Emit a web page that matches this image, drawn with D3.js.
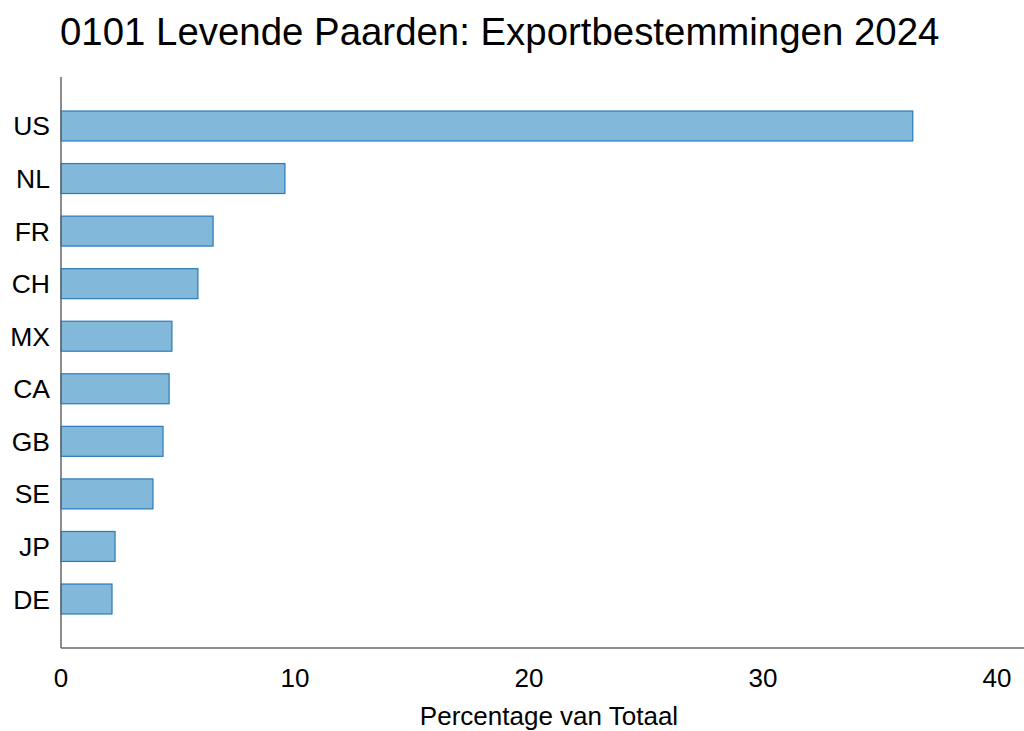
<!DOCTYPE html>
<html>
<head>
<meta charset="utf-8">
<script src="https://d3js.org/d3.v7.min.js"></script>
<style>
  body { margin: 0; background: #fff; }
  text { font-family: "Liberation Sans", Arial, Helvetica, sans-serif; fill: #000; }
</style>
</head>
<body>
<svg width="1024" height="731"></svg>
<script>
const countries = ["US", "NL", "FR", "CH", "MX", "CA", "GB", "SE", "JP", "DE"];
const shares = [36.4, 9.57, 6.5, 5.85, 4.74, 4.62, 4.36, 3.93, 2.31, 2.18];
const xTicks = [0, 10, 20, 30, 40];

const svg = d3.select("svg"),
      plotLeft = 61, plotRight = 997, plotTop = 77, plotBottom = 648;

const x = d3.scaleLinear().domain([0, 40]).range([plotLeft, plotRight]);
const y = d3.scaleBand().domain(countries).range([plotTop, plotBottom])
  .paddingInner(0.43).paddingOuter(0.647);

svg.append("text")
  .attr("x", 60).attr("y", 45)
  .attr("font-size", 38.4)
  .text("0101 Levende Paarden: Exportbestemmingen 2024");

// bars
svg.selectAll(".bar")
  .data(countries)
  .enter()
  .append("rect")
  .attr("class", "bar")
  .attr("x", x(0))
  .attr("y", d => y(d))
  .attr("width", (d, i) => x(shares[i]) - x(0))
  .attr("height", y.bandwidth())
  .attr("fill", "#82b8d9")
  .attr("stroke", "#2a7ab8")
  .attr("stroke-width", 1.2);

// axis lines
svg.append("line").attr("x1", plotLeft).attr("x2", plotLeft).attr("y1", plotTop).attr("y2", plotBottom)
  .attr("stroke", "#666").attr("stroke-width", 1.5);
svg.append("line").attr("x1", plotLeft).attr("x2", 1024).attr("y1", plotBottom).attr("y2", plotBottom)
  .attr("stroke", "#666").attr("stroke-width", 1.5);

// y labels
svg.selectAll(".ylab")
  .data(countries)
  .enter()
  .append("text")
  .attr("x", 50)
  .attr("y", d => y(d) + y.bandwidth() / 2 + 9.5)
  .attr("text-anchor", "end")
  .attr("font-size", 26.5)
  .text(d => d);

// x tick labels
svg.selectAll(".xlab")
  .data(xTicks)
  .enter()
  .append("text")
  .attr("x", d => x(d))
  .attr("y", 687)
  .attr("text-anchor", "middle")
  .attr("font-size", 26)
  .text(d => d);

svg.append("text")
  .attr("x", 549).attr("y", 725)
  .attr("text-anchor", "middle")
  .attr("font-size", 26)
  .text("Percentage van Totaal");
</script>
</body>
</html>
